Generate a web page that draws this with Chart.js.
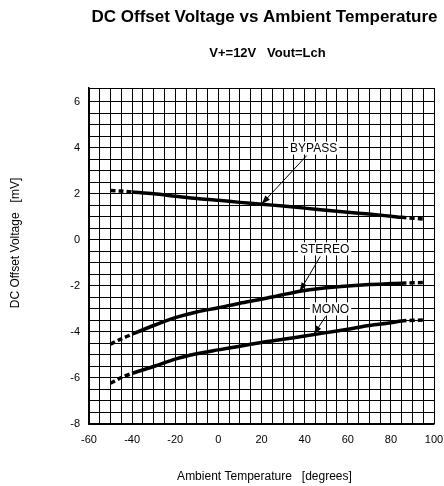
<!DOCTYPE html>
<html>
<head>
<meta charset="utf-8">
<script src="https://cdn.jsdelivr.net/npm/chart.js@4.4.1/dist/chart.umd.min.js"></script>
<style>
  html, body { margin: 0; padding: 0; background: #fff; }
  #wrap { width: 444px; height: 486px; position: relative; }
</style>
</head>
<body>
<div id="wrap"><canvas id="chart"></canvas></div>
<script>
// --- data ---
const temps  = [-50, -45, -40, -30, -20, -10, 0, 10, 20, 30, 40, 50, 60, 70, 80, 85, 96];
const bypass = [2.15, 2.12, 2.08, 2.0, 1.9, 1.8, 1.72, 1.63, 1.55, 1.47, 1.38, 1.29, 1.2, 1.12, 1.03, 0.98, 0.9];
const stereo = [-4.53, -4.3, -4.1, -3.72, -3.38, -3.13, -2.95, -2.75, -2.58, -2.38, -2.2, -2.08, -2.0, -1.94, -1.9, -1.88, -1.85];
const mono   = [-6.23, -5.98, -5.8, -5.5, -5.18, -4.95, -4.78, -4.62, -4.46, -4.32, -4.18, -4.03, -3.88, -3.72, -3.6, -3.52, -3.48];

const seriesNames = ['BYPASS', 'STEREO', 'MONO'];
const xTickLabels = [-60, -40, -20, 0, 20, 40, 60, 80, 100];
const yTickLabels = [-8, -6, -4, -2, 0, 2, 4, 6];

// callout labels: where the text sits and where on the curve the arrow points (data units)
const callouts = [
  { name: 'BYPASS', data: bypass, textX: 44.2, textY: 3.99, tipX: 20 },
  { name: 'STEREO', data: stereo, textX: 49.3, textY: -0.39, tipX: 37.7 },
  { name: 'MONO',   data: mono,   textX: 52,   textY: -3.0,  tipX: 44.2 }
];

const FONT = '"Liberation Sans", Arial, sans-serif';

function toPoints(vals) {
  return temps.map((t, i) => ({ x: t, y: vals[i] }));
}

function interp(vals, x) {
  for (let i = 0; i < temps.length - 1; i++) {
    if (x >= temps[i] && x <= temps[i + 1]) {
      const f = (x - temps[i]) / (temps[i + 1] - temps[i]);
      return vals[i] + f * (vals[i + 1] - vals[i]);
    }
  }
  return vals[vals.length - 1];
}

// ends of each curve are drawn dashed
const dashEnds = ctx => (ctx.p0.parsed.x < -40 || ctx.p0.parsed.x >= 85) ? [5, 3] : undefined;

const lineStyle = {
  borderColor: '#000',
  borderWidth: 3.5,
  pointRadius: 0,
  tension: 0.3,
  fill: false,
  segment: { borderDash: dashEnds }
};

// titles, axis titles and callouts
const decor = {
  id: 'decor',
  afterDraw(chart) {
    const c = chart.ctx;
    const a = chart.chartArea;
    const xs = chart.scales.x, ys = chart.scales.y;
    const mid = (a.left + a.right) / 2;
    c.save();
    c.fillStyle = '#000';
    c.textAlign = 'center';
    c.textBaseline = 'middle';
    c.font = 'bold 17px ' + FONT;
    c.fillText('DC Offset Voltage vs Ambient Temperature', mid + 3, 17);
    c.font = 'bold 13px ' + FONT;
    c.fillText('V+=12V   Vout=Lch', mid + 6, 53);
    c.font = '12px ' + FONT;
    c.fillText('Ambient Temperature   [degrees]', mid + 3, 477);
    c.save();
    c.translate(16, (a.top + a.bottom) / 2 - 13);
    c.rotate(-Math.PI / 2);
    c.fillText('DC Offset Voltage   [mV]', 0, 0);
    c.restore();

    // callouts
    c.font = '12px ' + FONT;
    callouts.forEach(co => {
      const tx = xs.getPixelForValue(co.textX);
      const ty = ys.getPixelForValue(co.textY);
      const px = xs.getPixelForValue(co.tipX);
      const py = ys.getPixelForValue(interp(co.data, co.tipX));
      const w = c.measureText(co.name).width + 4;
      const h = 13;
      c.fillStyle = '#fff';
      c.fillRect(tx - w / 2, ty - h / 2, w, h);
      c.fillStyle = '#000';
      c.fillText(co.name, tx, ty + 0.5);
      // arrow from box bottom toward the curve
      const sy = ty + h / 2 + 1;
      const sx = tx + (px - tx) * (sy - ty) / (py - ty);
      c.strokeStyle = '#000';
      c.lineWidth = 1;
      c.beginPath();
      c.moveTo(sx, sy);
      c.lineTo(px, py);
      c.stroke();
      const ang = Math.atan2(py - sy, px - sx);
      const L = 9, W = 3;
      c.beginPath();
      c.moveTo(px, py);
      c.lineTo(px - L * Math.cos(ang) + W * Math.sin(ang), py - L * Math.sin(ang) - W * Math.cos(ang));
      c.lineTo(px - L * Math.cos(ang) - W * Math.sin(ang), py - L * Math.sin(ang) + W * Math.cos(ang));
      c.closePath();
      c.fill();
    });
    c.restore();
  }
};

new Chart(document.getElementById('chart'), {
  type: 'line',
  data: {
    datasets: [
      { label: seriesNames[0], data: toPoints(bypass), ...lineStyle },
      { label: seriesNames[1], data: toPoints(stereo), ...lineStyle },
      { label: seriesNames[2], data: toPoints(mono), ...lineStyle }
    ]
  },
  options: {
    responsive: true,
    maintainAspectRatio: false,
    animation: false,
    layout: { padding: { top: 88, right: 10, left: 0, bottom: 0 } },
    plugins: {
      legend: { display: false },
      tooltip: { enabled: false }
    },
    scales: {
      x: {
        type: 'linear',
        min: -60,
        max: 100,
        afterFit: s => { s.height = 62; s.paddingLeft = 0; s.paddingRight = 0; },
        border: { color: '#000', width: 1.5 },
        grid: { color: '#000', lineWidth: 1, drawTicks: false },
        ticks: {
          stepSize: 5,
          autoSkip: false,
          maxRotation: 0,
          padding: 9,
          color: '#000',
          font: { family: FONT, size: 11 },
          callback: v => xTickLabels.includes(v) ? String(v) : ''
        }
      },
      y: {
        type: 'linear',
        min: -8,
        max: 6.6,
        afterFit: s => { s.width = 89; s.paddingTop = 0; s.paddingBottom = 0; },
        border: { color: '#000', width: 1.5 },
        grid: { color: '#000', lineWidth: 1, drawTicks: false },
        ticks: {
          stepSize: 0.5,
          autoSkip: false,
          padding: 9,
          color: '#000',
          font: { family: FONT, size: 11 },
          callback: v => yTickLabels.includes(v) ? String(v) : ''
        }
      }
    }
  },
  plugins: [decor]
});
</script>
</body>
</html>
